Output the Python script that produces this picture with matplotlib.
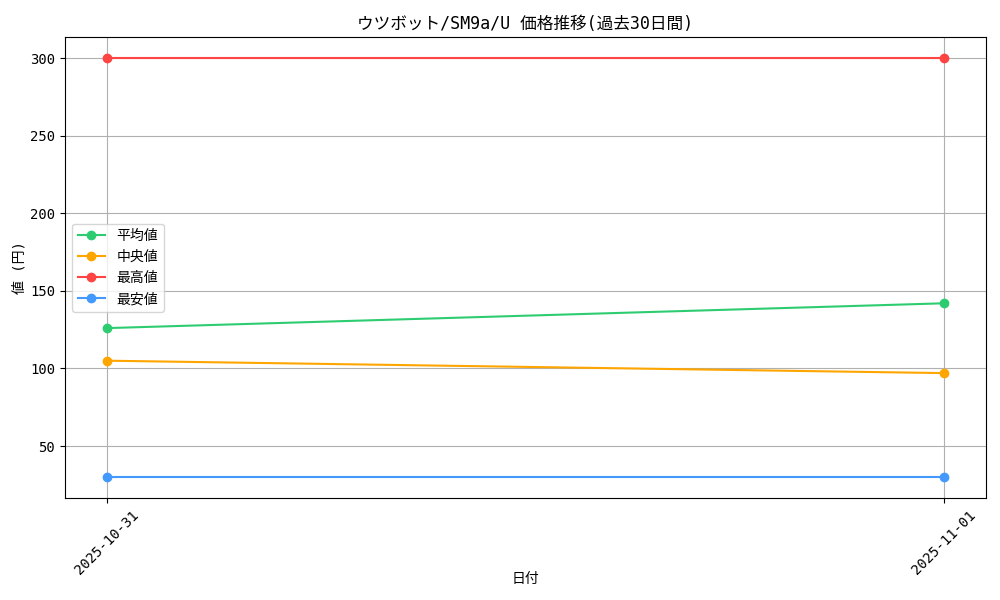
import matplotlib
matplotlib.use("Agg")
import matplotlib.pyplot as plt

plt.rcParams['font.family'] = ['DejaVu Sans Mono', 'Noto Sans CJK JP']

dates = ["2025-10-31", "2025-11-01"]
avg_prices = [126, 142]
median_prices = [105, 97]
max_prices = [300, 300]
min_prices = [30, 30]

fig, ax = plt.subplots(figsize=(10, 6), dpi=100)
ax.plot(dates, avg_prices, marker='o', color='#2ecc71', label='平均値')
ax.plot(dates, median_prices, marker='o', color='#ffa500', label='中央値')
ax.plot(dates, max_prices, marker='o', color='#ff4444', label='最高値')
ax.plot(dates, min_prices, marker='o', color='#4499ff', label='最安値')

ax.set_title('ウツボット/SM9a/U 価格推移(過去30日間)')
ax.set_xlabel('日付')
ax.set_ylabel('値 (円)')
ax.xaxis.set_label_coords(0.5, -0.16)
ax.yaxis.set_label_coords(-0.042, 0.5)
ax.grid(True)
ax.legend(loc='center left')
plt.xticks(rotation=45)
plt.subplots_adjust(left=0.065, right=0.986, top=0.938, bottom=0.17)
plt.savefig('out.png')
